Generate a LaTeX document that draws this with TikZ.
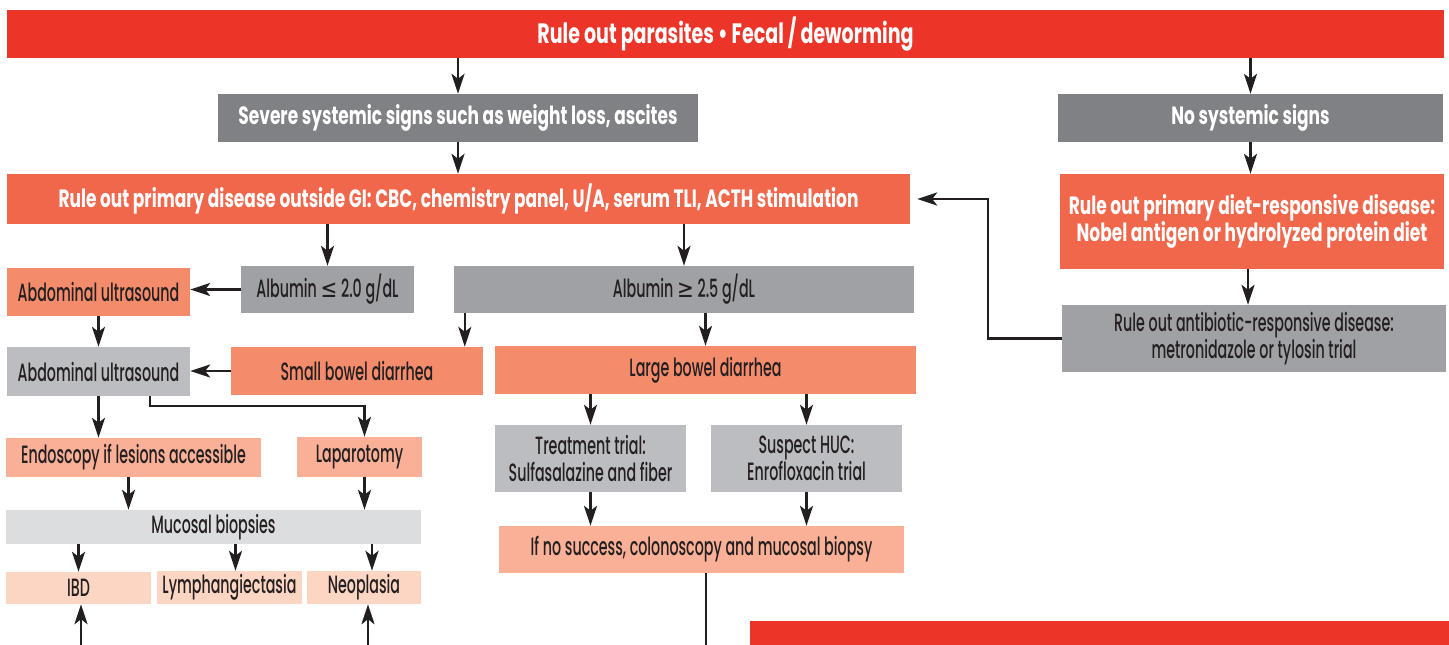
\documentclass[tikz,border=0pt]{standalone}
\usepackage{fontspec}
\setmainfont{Poppins}[UprightFont={* Medium}, BoldFont={* Bold}, FakeStretch=0.57, BoldFeatures={FakeStretch=0.68}]
\newfontfamily\symfont{DejaVu Sans}[FakeStretch=0.8]
\usetikzlibrary{arrows.meta, positioning}

\definecolor{rulered}{HTML}{EC3528}
\definecolor{darkgray}{HTML}{808185}
\definecolor{ruleorange}{HTML}{F0674B}
\definecolor{salmon}{HTML}{F48C6C}
\definecolor{lightsalmon}{HTML}{F9B096}
\definecolor{palesalmon}{HTML}{FDD6C3}
\definecolor{midgray}{HTML}{A0A1A5}
\definecolor{lightgray}{HTML}{BCBDC0}
\definecolor{palegray}{HTML}{DCDDDF}
\definecolor{ink}{HTML}{231F20}

\begin{document}
\begin{tikzpicture}[x=1pt, y=-1pt,
    plainbox/.style={rectangle, inner sep=0pt, align=center, text=ink,
        font=\fontsize{25}{27}\selectfont},
    headbox/.style={plainbox, text=white, font=\fontsize{25}{27}\selectfont\bfseries},
    arr/.style={draw=ink, line width=2.5pt, -{Stealth[length=20pt, width=13pt, inset=5pt]}},
    link/.style={draw=ink, line width=2.5pt}]

    \useasboundingbox (0,0) rectangle (1449,645);

    % Top row
    \node[headbox, font=\fontsize{28}{30}\selectfont\bfseries, fill=rulered,
        minimum width=1437pt, minimum height=48pt] (parasites) at (725.5,34)
        {Rule out parasites \textbullet\ Fecal / deworming};
    \node[headbox, fill=darkgray, minimum width=480pt, minimum height=48pt] (severe) at (458,118)
        {Severe systemic signs such as weight loss, ascites};
    \node[headbox, fill=darkgray, minimum width=385pt, minimum height=48pt] (nosigns) at (1250.5,118)
        {No systemic signs};

    % Rule-out boxes
    \node[headbox, fill=ruleorange, minimum width=903pt, minimum height=50pt] (outside) at (458.5,199)
        {Rule out primary disease outside GI: CBC, chemistry panel, U/A, serum TLI, ACTH stimulation};
    \node[headbox, fill=ruleorange, minimum width=384pt, minimum height=95pt] (diet) at (1252,221.5)
        {Rule out primary diet-responsive disease:\\Nobel antigen or hydrolyzed protein diet};
    \node[plainbox, fill=midgray, minimum width=384pt, minimum height=67pt] (antibiotic) at (1254,338.5)
        {Rule out antibiotic-responsive disease:\\metronidazole or tylosin trial};

    % Albumin level
    \node[plainbox, fill=midgray, minimum width=173pt, minimum height=47pt] (lowalb) at (327.5,289.5)
        {Albumin {\symfont≤} 2.0 g/dL};
    \node[plainbox, fill=midgray, minimum width=460pt, minimum height=47pt] (highalb) at (684,289.5)
        {Albumin {\symfont≥} 2.5 g/dL};

    % Left branch
    \node[plainbox, fill=salmon, minimum width=183pt, minimum height=48pt] (ultra1) at (98.5,292)
        {Abdominal ultrasound};
    \node[plainbox, fill=lightgray, minimum width=183pt, minimum height=49pt] (ultra2) at (98.5,371.5)
        {Abdominal ultrasound};
    \node[plainbox, fill=salmon, minimum width=252pt, minimum height=48pt] (smallbowel) at (357,371)
        {Small bowel diarrhea};
    \node[plainbox, fill=lightsalmon, minimum width=255pt, minimum height=39pt] (endoscopy) at (133.5,457.5)
        {Endoscopy if lesions accessible};
    \node[plainbox, fill=lightsalmon, minimum width=125pt, minimum height=40pt] (laparotomy) at (359.5,457)
        {Laparotomy};
    \node[plainbox, fill=palegray, minimum width=415pt, minimum height=34pt] (biopsies) at (213.5,527)
        {Mucosal biopsies};
    \node[plainbox, fill=palesalmon, minimum width=145pt, minimum height=32pt] (ibd) at (78.5,588)
        {IBD};
    \node[plainbox, fill=palesalmon, minimum width=145pt, minimum height=33pt] (lymph) at (229.5,587.5)
        {Lymphangiectasia};
    \node[plainbox, fill=palesalmon, minimum width=114pt, minimum height=33pt] (neoplasia) at (364,587.5)
        {Neoplasia};

    % Right branch
    \node[plainbox, fill=salmon, minimum width=421pt, minimum height=48pt] (largebowel) at (705.5,370)
        {Large bowel diarrhea};
    \node[plainbox, fill=lightgray, minimum width=191pt, minimum height=67pt] (sulfa) at (590.5,458.5)
        {Treatment trial:\\Sulfasalazine and fiber};
    \node[plainbox, fill=lightgray, minimum width=191pt, minimum height=67pt] (huc) at (806.5,458.5)
        {Suspect HUC:\\Enrofloxacin trial};
    \node[plainbox, fill=lightsalmon, minimum width=405pt, minimum height=47pt] (colono) at (701.5,549.5)
        {If no success, colonoscopy and mucosal biopsy};
    \node[plainbox, fill=rulered, minimum width=699pt, minimum height=24pt] (nextbar) at (1099.5,633) {};

    % Loose ends at the page edge
    \coordinate (colonoend) at (706,645);
    \coordinate (ibdin) at (81,645);
    \coordinate (neoin) at (368,645);

    % Connectors
    \draw[arr] (parasites.south -| severe.north) -- (severe.north);
    \draw[arr] (parasites.south -| nosigns.north) -- (nosigns.north);
    \draw[arr] (severe.south) -- (severe.south |- outside.north);
    \draw[arr] (nosigns.south) -- (nosigns.south |- diet.north);
    \draw[arr] ([xshift=-4pt]diet.south) -- ([xshift=-4pt]diet.south |- antibiotic.north);
    \draw[arr, shorten >=7pt] (antibiotic.west) -| ([xshift=78pt]outside.east) -- (outside.east);
    \draw[arr] (outside.south -| lowalb.north) -- (lowalb.north);
    \draw[arr] (outside.south -| highalb.north) -- (highalb.north);
    \draw[arr] (lowalb.west) -- (lowalb.west -| ultra1.east);
    \draw[arr] (ultra1.south) -- (ultra2.north);
    \draw[arr] (smallbowel.west) -- (smallbowel.west -| ultra2.east);
    \draw[arr] ([xshift=11pt]highalb.south west) -- ([xshift=11pt]highalb.south west |- smallbowel.north);
    \draw[arr] (highalb.south -| largebowel.north) -- (largebowel.north);
    \draw[arr] (largebowel.south -| sulfa.north) -- (sulfa.north);
    \draw[arr] (largebowel.south -| huc.north) -- (huc.north);
    \draw[arr] (sulfa.south) -- (sulfa.south |- colono.north);
    \draw[arr] (huc.south) -- (huc.south |- colono.north);
    \draw[link] (colono.south -| colonoend) -- (colonoend);
    \draw[arr] (ultra2.south) -- (ultra2.south |- endoscopy.north);
    \draw[arr] ([xshift=-40pt]ultra2.south east) -- ++(0,10) -| ([xshift=5pt]laparotomy.north);
    \draw[arr] ([xshift=-5pt]endoscopy.south) -- ([xshift=-5pt]endoscopy.south |- biopsies.north);
    \draw[arr] ([xshift=5pt]laparotomy.south) -- ([xshift=5pt]laparotomy.south |- biopsies.north);
    \draw[arr] (biopsies.south -| ibd.north) -- (ibd.north);
    \draw[arr] ([xshift=6pt]biopsies.south -| lymph.north) -- ([xshift=6pt]lymph.north);
    \draw[arr] ([xshift=8pt]biopsies.south -| neoplasia.north) -- ([xshift=8pt]neoplasia.north);
    \draw[arr] (ibdin) -- (ibdin |- ibd.south);
    \draw[arr] (neoin) -- (neoin |- neoplasia.south);
\end{tikzpicture}
\end{document}
